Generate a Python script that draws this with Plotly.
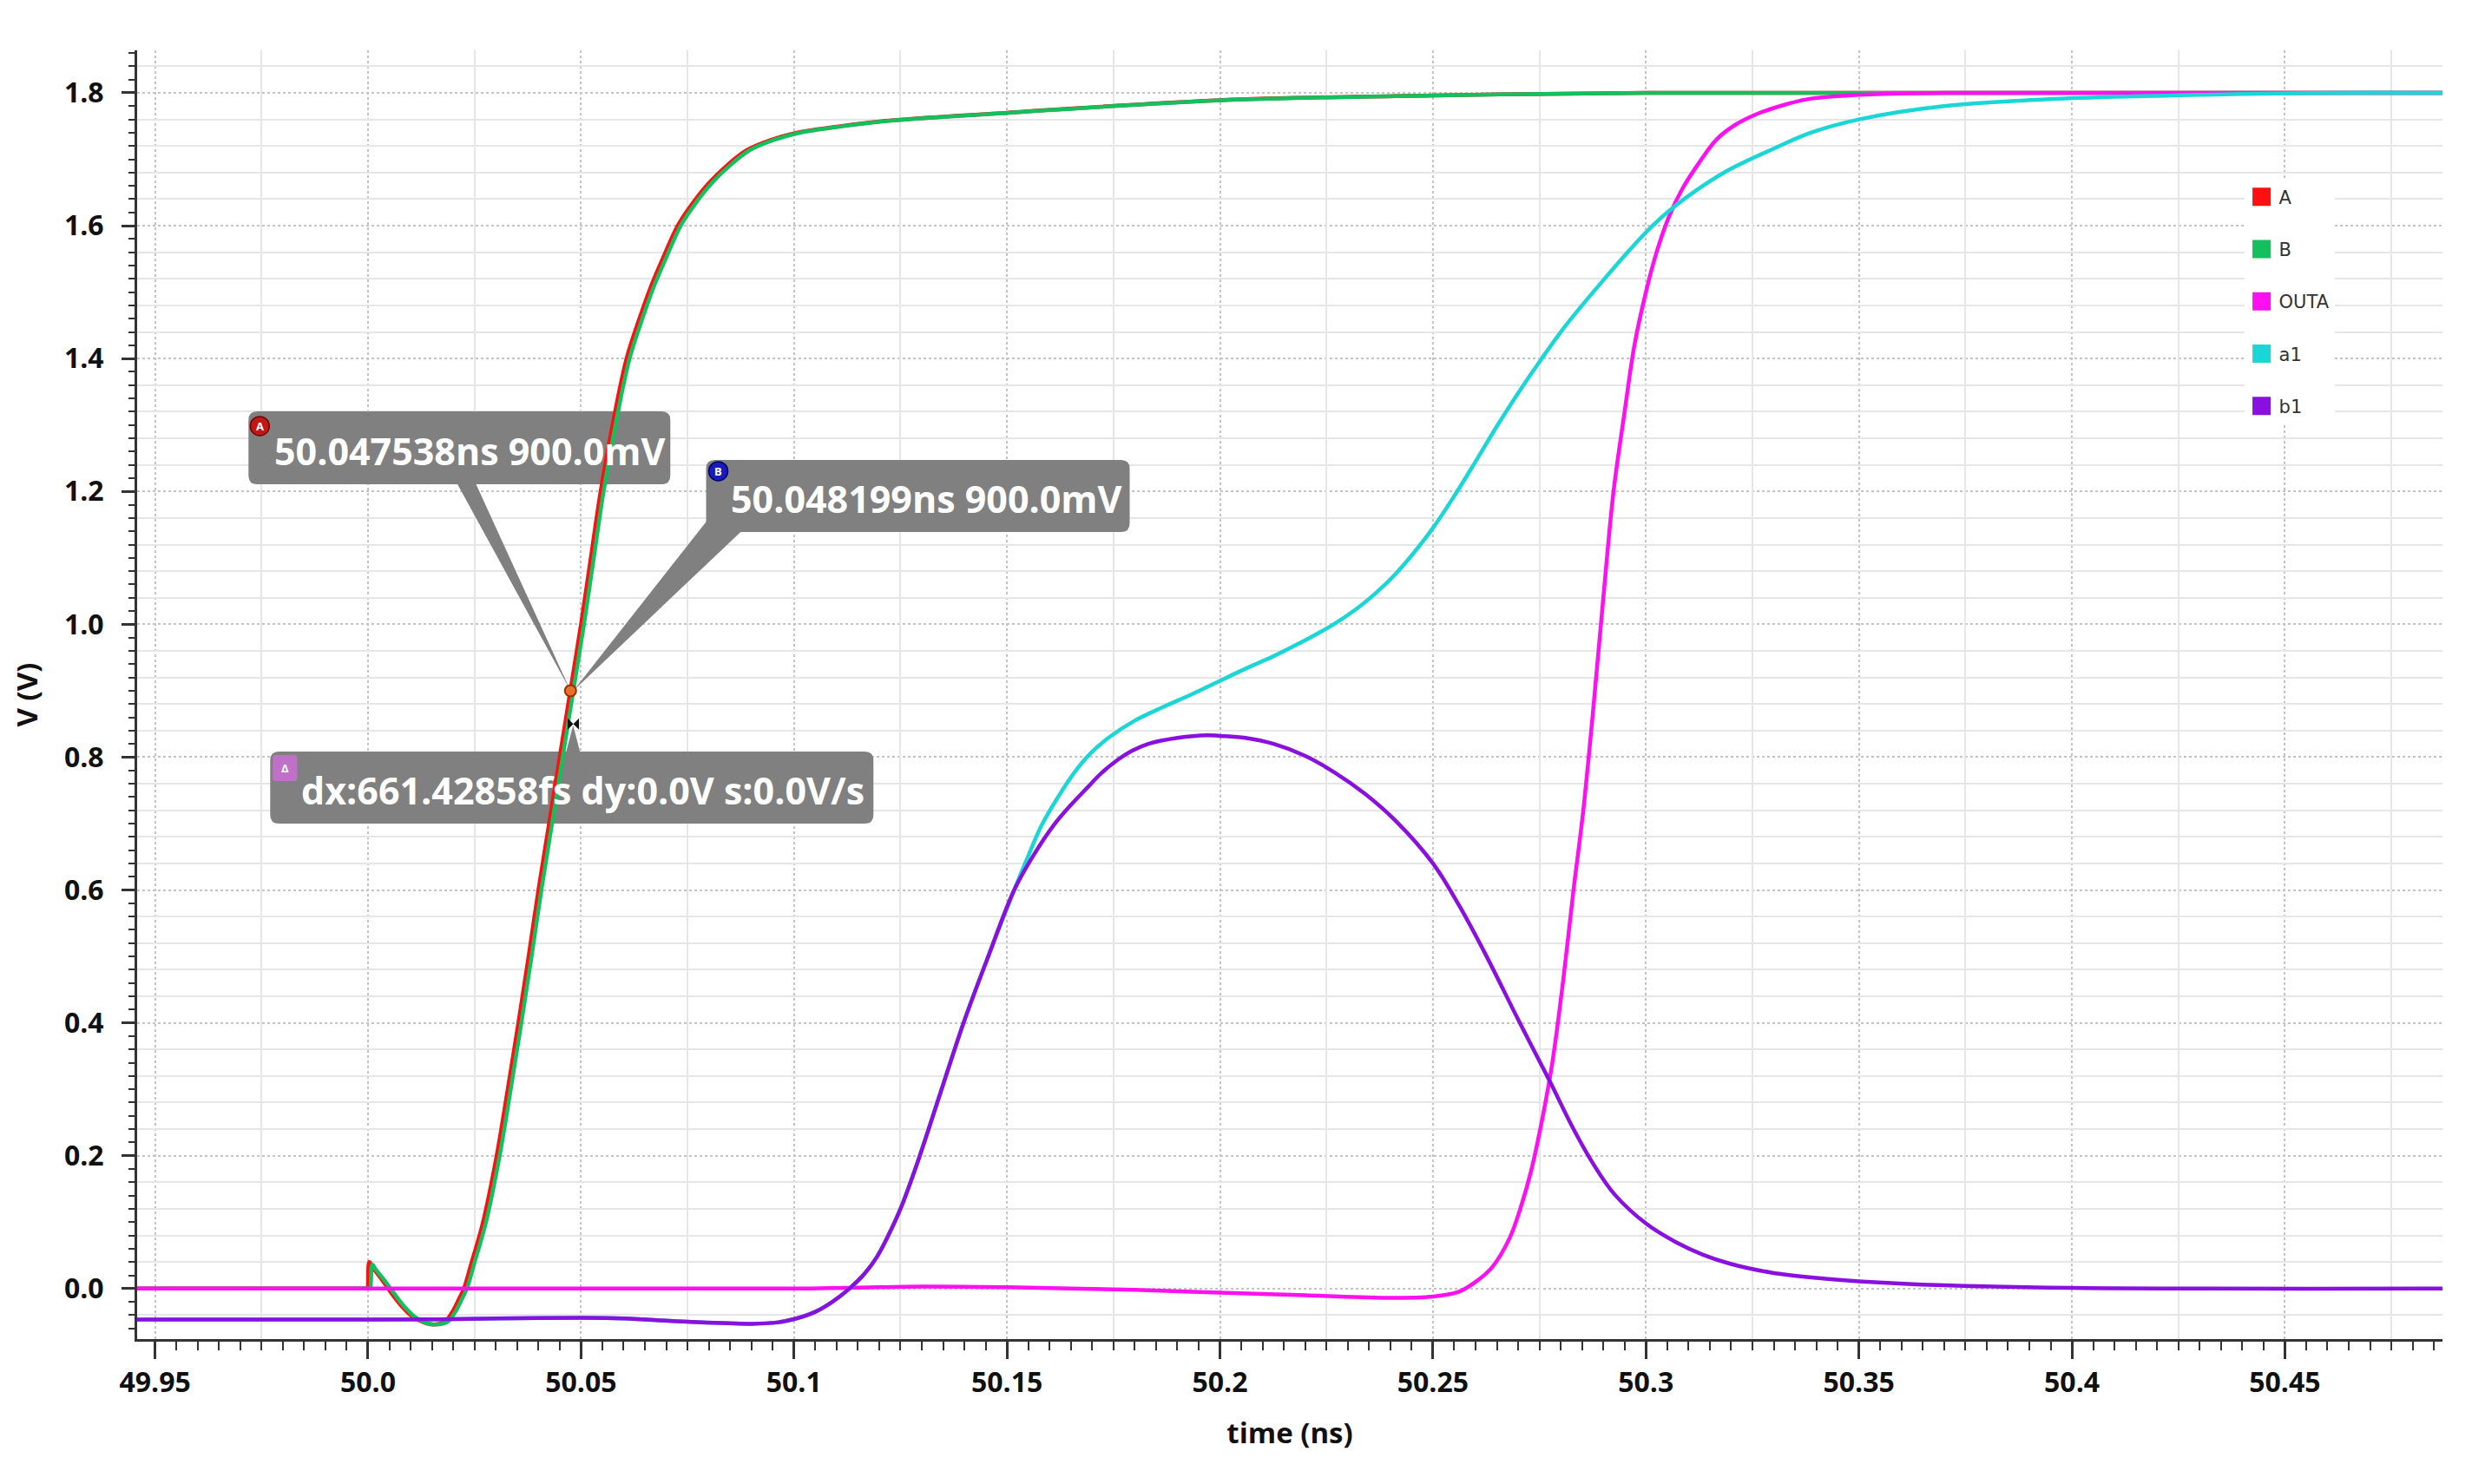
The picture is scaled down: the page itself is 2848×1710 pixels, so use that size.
import plotly.graph_objects as go

# ---------------- data (time in ns, voltage in V) ----------------
A_t = [49.9458, 49.9995, 49.9998, 50.0003, 50.0012, 50.0032, 50.0055, 50.0077, 50.01, 50.012,
       50.015, 50.018, 50.0198, 50.0214, 50.0225, 50.0243, 50.027, 50.0302, 50.0328, 50.0353,
       50.0377, 50.04, 50.0425, 50.045, 50.0475, 50.05, 50.0523, 50.0546, 50.0574, 50.0607,
       50.0637, 50.0665, 50.0695, 50.0727, 50.076, 50.08, 50.0845, 50.089, 50.0945, 50.1,
       50.11, 50.12, 50.15, 50.2, 50.25, 50.3, 50.487]
A_v = [0.0, 0.0, 0.0, 0.04, 0.031, 0.014, -0.007, -0.025, -0.04, -0.048,
       -0.054, -0.05, -0.035, -0.015, 0.0, 0.039, 0.10, 0.2, 0.3, 0.4,
       0.5, 0.6, 0.7, 0.8, 0.9, 1.0, 1.1, 1.2, 1.3, 1.4,
       1.46, 1.51, 1.555, 1.6, 1.632, 1.664, 1.692, 1.714, 1.729, 1.739,
       1.749, 1.757, 1.77, 1.789, 1.796, 1.8, 1.8]

B_t = [49.9458, 50.0002, 50.0005, 50.001, 50.0019, 50.0039, 50.0062, 50.0084, 50.0107, 50.0127,
       50.0157, 50.0187, 50.0205, 50.0221, 50.0232, 50.025, 50.0277, 50.0309, 50.0335, 50.036,
       50.0384, 50.0407, 50.0432, 50.0457, 50.0482, 50.0507, 50.053, 50.0553, 50.0581, 50.0614,
       50.0644, 50.0672, 50.0702, 50.0734, 50.0767, 50.0807, 50.0852, 50.0897, 50.0952, 50.1007,
       50.1107, 50.1207, 50.1507, 50.2007, 50.2507, 50.3007, 50.487]
B_v = [0.0, 0.0, 0.0, 0.036, 0.028, 0.012, -0.008, -0.026, -0.041, -0.049,
       -0.054, -0.05, -0.035, -0.015, 0.0, 0.039, 0.10, 0.2, 0.3, 0.4,
       0.5, 0.6, 0.7, 0.8, 0.9, 1.0, 1.1, 1.2, 1.3, 1.4,
       1.46, 1.51, 1.555, 1.6, 1.632, 1.664, 1.692, 1.714, 1.729, 1.739,
       1.749, 1.757, 1.77, 1.789, 1.796, 1.8, 1.8]

OUTA_t = [49.9458, 50.10, 50.13, 50.15, 50.18, 50.2, 50.22, 50.24, 50.25, 50.256,
          50.26, 50.264, 50.268, 50.2705, 50.273, 50.2755, 50.278, 50.2805, 50.283, 50.2853,
          50.2876, 50.29, 50.2924, 50.295, 50.2973, 50.3, 50.3025, 50.3055, 50.3085, 50.3125,
          50.3166, 50.321, 50.326, 50.332, 50.3376, 50.345, 50.354, 50.37, 50.487]
OUTA_v = [0.0, 0.0, 0.003, 0.002, -0.002, -0.006, -0.01, -0.014, -0.012, -0.005,
          0.01, 0.033, 0.076, 0.12, 0.176, 0.25, 0.339, 0.46, 0.6, 0.72,
          0.87, 1.04, 1.2, 1.32, 1.42, 1.5, 1.56, 1.615, 1.655, 1.695,
          1.73, 1.752, 1.768, 1.781, 1.79, 1.795, 1.798, 1.8, 1.8]

a1_t = [49.9458, 50.0, 50.02, 50.035, 50.05, 50.06, 50.075, 50.09, 50.096, 50.1,
        50.105, 50.109, 50.113, 50.1165, 50.1195, 50.122, 50.125, 50.129, 50.1344, 50.1398,
        50.1456, 50.1517, 50.1549, 50.1581, 50.162, 50.1656, 50.1695, 50.174, 50.18, 50.1865,
        50.1935, 50.2, 50.2063, 50.2126, 50.2185, 50.2262, 50.2318, 50.2371, 50.2411, 50.2453,
        50.25, 50.255, 50.26, 50.265, 50.27, 50.275, 50.28, 50.285, 50.29, 50.295,
        50.3, 50.305, 50.31, 50.3189, 50.33, 50.3387, 50.35, 50.37, 50.4, 50.43,
        50.46, 50.487]
a1_v = [-0.0466, -0.0466, -0.046, -0.0445, -0.044, -0.045, -0.05, -0.053, -0.051, -0.046,
        -0.035, -0.02, 0.0, 0.022, 0.048, 0.078, 0.12, 0.19, 0.295, 0.4,
        0.5, 0.6, 0.65, 0.697, 0.74, 0.775, 0.805, 0.83, 0.855, 0.875,
        0.895, 0.915, 0.934, 0.952, 0.971, 0.998, 1.022, 1.05, 1.075, 1.106,
        1.145, 1.193, 1.245, 1.298, 1.348, 1.395, 1.44, 1.48, 1.518, 1.555,
        1.59, 1.62, 1.645, 1.682, 1.716, 1.74, 1.76, 1.78, 1.792, 1.797,
        1.8, 1.8]

b1_t = [49.9458, 50.0, 50.02, 50.035, 50.05, 50.06, 50.075, 50.09, 50.096, 50.1,
        50.105, 50.109, 50.113, 50.1165, 50.1195, 50.122, 50.125, 50.129, 50.1344, 50.1398,
        50.1456, 50.1517, 50.1565, 50.1609, 50.165, 50.169, 50.172, 50.1758, 50.1795, 50.1832,
        50.19, 50.197, 50.2, 50.206, 50.2126, 50.22, 50.2269, 50.234, 50.2411, 50.25,
        50.2563, 50.2626, 50.27, 50.2776, 50.2826, 50.2876, 50.2926, 50.3, 50.307, 50.3134,
        50.32, 50.3295, 50.34, 50.35, 50.37, 50.4, 50.487]
b1_v = [-0.0466, -0.0466, -0.046, -0.0445, -0.044, -0.045, -0.05, -0.053, -0.051, -0.046,
        -0.035, -0.02, 0.0, 0.022, 0.048, 0.078, 0.12, 0.19, 0.295, 0.4,
        0.5, 0.6, 0.655, 0.697, 0.728, 0.755, 0.775, 0.795, 0.81, 0.82,
        0.829, 0.833, 0.832, 0.829, 0.82, 0.802, 0.777, 0.745, 0.705, 0.64,
        0.575, 0.50, 0.405, 0.31, 0.245, 0.188, 0.142, 0.098, 0.07, 0.051,
        0.037, 0.024, 0.016, 0.011, 0.005, 0.001, 0.0]

series_names = ["A", "B", "OUTA", "a1", "b1"]

x_tick_vals = [49.95, 50.0, 50.05, 50.1, 50.15, 50.2, 50.25, 50.3, 50.35, 50.4, 50.45]
x_tick_text = ["49.95", "50.0", "50.05", "50.1", "50.15", "50.2", "50.25", "50.3", "50.35", "50.4", "50.45"]
y_tick_vals = [0.0, 0.2, 0.4, 0.6, 0.8, 1.0, 1.2, 1.4, 1.6, 1.8]
y_tick_text = ["0.0", "0.2", "0.4", "0.6", "0.8", "1.0", "1.2", "1.4", "1.6", "1.8"]

x_range = [49.9458, 50.487]
y_range = [-0.076, 1.864]

# cursor readouts
cursor_A = (50.047538, 0.9)
cursor_B = (50.048199, 0.9)
delta_mark = (50.0482, 0.85)
label_A = "50.047538ns 900.0mV"
label_B = "50.048199ns 900.0mV"
label_delta = "dx:661.42858fs dy:0.0V s:0.0V/s"

# ---------------- styling ----------------
colors = {"A": "#ff1010", "B": "#14bf5e", "OUTA": "#ff10f0", "a1": "#1ad6d6", "b1": "#8a10e0"}
FONT = "Open Sans"
W, H = 2848, 1710
ML, MR, MT, MB = 150, 42, 50, 175

fig = go.Figure()

data = {"A": (A_t, A_v), "B": (B_t, B_v), "OUTA": (OUTA_t, OUTA_v),
        "a1": (a1_t, a1_v), "b1": (b1_t, b1_v)}

for name in series_names:
    t, v = data[name]
    fig.add_trace(go.Scatter(
        x=t, y=v, mode="lines", name=name, legendgroup=name, showlegend=False,
        line=dict(color=colors[name], width=4.5, shape="spline", smoothing=1.0),
        hoverinfo="x+y+name"))

# legend proxies (square swatches)
for name in series_names:
    fig.add_trace(go.Scatter(
        x=[None], y=[None], mode="markers", name=name, legendgroup=name,
        marker=dict(symbol="square", size=30, color=colors[name],
                    line=dict(color=colors[name], width=5))))

# cursor markers
fig.add_trace(go.Scatter(x=[cursor_A[0]], y=[cursor_A[1]], mode="markers", showlegend=False,
                         marker=dict(symbol="circle", size=13, color="#e8702a",
                                     line=dict(color="#9a3000", width=2)), hoverinfo="skip"))
fig.add_trace(go.Scatter(x=[delta_mark[0]], y=[delta_mark[1]], mode="markers", showlegend=False,
                         marker=dict(symbol="bowtie", size=13, color="#111111"), hoverinfo="skip"))

# dummy trace for the minor-grid overlay axes
fig.add_trace(go.Scatter(x=[None], y=[None], xaxis="x2", yaxis="y2", showlegend=False,
                         hoverinfo="skip"))

# ---------------- callout boxes ----------------
BOX = "#808080"


def rrect(x0, x1, y0, y1, r):
    return (f"M {x0 + r},{y0} L {x1 - r},{y0} Q {x1},{y0} {x1},{y0 + r} "
            f"L {x1},{y1 - r} Q {x1},{y1} {x1 - r},{y1} L {x0 + r},{y1} "
            f"Q {x0},{y1} {x0},{y1 - r} L {x0},{y0 + r} Q {x0},{y0} {x0 + r},{y0} Z")


def pix_shape(anchor, path, color, layer="between"):
    return dict(type="path", xref="x", yref="y", xsizemode="pixel", ysizemode="pixel",
                xanchor=anchor[0], yanchor=anchor[1], path=path,
                fillcolor=color, line=dict(width=0), layer=layer)


shapes = []
shapes.append(pix_shape(cursor_A, rrect(-371, 115, 238, 322, 10), BOX))
shapes.append(pix_shape(cursor_A, "M -134,245 L -112,245 L 0,0 Z", BOX))
shapes.append(pix_shape(cursor_B, rrect(153, 641, 183, 266, 10), BOX))
shapes.append(pix_shape(cursor_B, "M 154,196 L 196,186 L 0,0 Z", BOX))
shapes.append(pix_shape(cursor_A, rrect(-346, 349, -153, -70, 10), BOX))
shapes.append(pix_shape(cursor_A, "M -6,-74 L 12,-74 L 3,-40 Z", BOX))
shapes.append(dict(type="circle", xref="x", yref="y", xsizemode="pixel", ysizemode="pixel",
                   xanchor=cursor_A[0], yanchor=cursor_A[1], x0=-369, x1=-347, y0=294, y1=316,
                   fillcolor="#c01818", line=dict(color="#7a0000", width=1.5), layer="above"))
shapes.append(dict(type="circle", xref="x", yref="y", xsizemode="pixel", ysizemode="pixel",
                   xanchor=cursor_B[0], yanchor=cursor_B[1], x0=156, x1=178, y0=242, y1=264,
                   fillcolor="#1a1ab8", line=dict(color="#00006a", width=1.5), layer="above"))
shapes.append(pix_shape(cursor_A, rrect(-343, -315, -104, -74, 3), "#c070c8", layer="above"))

annotations = []
ann_font = dict(family=FONT, size=43, color="white", weight="bold")
annotations.append(dict(x=cursor_A[0], y=cursor_A[1], xref="x", yref="y", text=label_A,
                        showarrow=False, xshift=-116, yshift=276, font=ann_font,
                        xanchor="center", yanchor="middle"))
annotations.append(dict(x=cursor_B[0], y=cursor_B[1], xref="x", yref="y", text=label_B,
                        showarrow=False, xshift=407, yshift=221, font=ann_font,
                        xanchor="center", yanchor="middle"))
annotations.append(dict(x=cursor_A[0], y=cursor_A[1], xref="x", yref="y", text=label_delta,
                        showarrow=False, xshift=14, yshift=-115, font=ann_font,
                        xanchor="center", yanchor="middle"))
badge_font = dict(family=FONT, size=13, color="white", weight="bold")
annotations.append(dict(x=cursor_A[0], y=cursor_A[1], xref="x", yref="y", text="A",
                        showarrow=False, xshift=-358, yshift=305, font=badge_font))
annotations.append(dict(x=cursor_B[0], y=cursor_B[1], xref="x", yref="y", text="B",
                        showarrow=False, xshift=167, yshift=253, font=badge_font))
annotations.append(dict(x=cursor_A[0], y=cursor_A[1], xref="x", yref="y", text="Δ",
                        showarrow=False, xshift=-329, yshift=-89, font=badge_font))

axis_font = dict(family=FONT, size=32, color="#111111", weight="bold")

y_minor_grid = [round(k * 0.04, 2) for k in range(-1, 47) if k % 5 != 0]

fig.update_layout(
    width=W, height=H,
    margin=dict(l=ML, r=MR, t=MT, b=MB, pad=0),
    paper_bgcolor="white", plot_bgcolor="white",
    font=dict(family=FONT, color="#111111"),
    showlegend=True,
    legend=dict(x=0.914, y=0.9, xanchor="left", yanchor="top",
                bgcolor="white", borderwidth=0, tracegroupgap=30,
                font=dict(family="DejaVu Sans", size=21, color="#333333"),
                itemsizing="trace"),
    xaxis=dict(
        range=x_range, tickmode="array", tickvals=x_tick_vals, ticktext=x_tick_text,
        ticks="outside", ticklen=20, tickwidth=2.5, tickcolor="#333333",
        showline=True, linecolor="#333333", linewidth=3,
        showgrid=True, gridcolor="#c4c4c4", gridwidth=2, griddash="dot",
        zeroline=False, tickfont=axis_font,
        minor=dict(tickmode="linear", tick0=49.95, dtick=0.005, ticks="outside",
                   ticklen=10, tickwidth=2, tickcolor="#333333", showgrid=False),
        title=dict(text="time (ns)", font=dict(family=FONT, size=33, color="#111111", weight="bold"),
                   standoff=28),
    ),
    yaxis=dict(
        range=y_range, tickmode="array", tickvals=y_tick_vals, ticktext=y_tick_text,
        ticks="outside", ticklen=15, tickwidth=2.5, tickcolor="#333333",
        showline=True, linecolor="#333333", linewidth=3,
        showgrid=True, gridcolor="#c4c4c4", gridwidth=2, griddash="dot",
        zeroline=False, tickfont=axis_font, ticklabelstandoff=14,
        minor=dict(tickmode="linear", tick0=0.0, dtick=0.02, ticks="outside",
                   ticklen=7, tickwidth=2, tickcolor="#333333", showgrid=False),
        title=dict(text="V (V)", font=dict(family=FONT, size=33, color="#111111", weight="bold"),
                   standoff=22),
    ),
    xaxis2=dict(overlaying="x", anchor="y2", range=x_range, tickmode="linear", tick0=49.975,
                dtick=0.05, showgrid=True, gridcolor="#e6e6e6", gridwidth=1.5,
                showticklabels=False, ticks="", showline=False, zeroline=False),
    yaxis2=dict(overlaying="y", anchor="x2", range=y_range, tickmode="array",
                tickvals=y_minor_grid, showgrid=True, gridcolor="#e6e6e6", gridwidth=1.5,
                showticklabels=False, ticks="", showline=False, zeroline=False),
    shapes=shapes,
    annotations=annotations,
)

fig.write_html("out.html")
